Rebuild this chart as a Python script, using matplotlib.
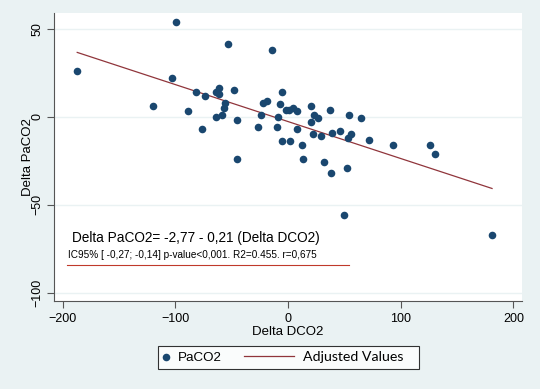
import numpy as np
import matplotlib
matplotlib.use("Agg")
import matplotlib.pyplot as plt
from matplotlib.legend_handler import HandlerLine2D

plt.rcParams['font.family'] = ['Liberation Sans', 'DejaVu Sans']

# Delta DCO2 vs Delta PaCO2
delta_dco2 = [-187, -99, -103, -120, -82, -74, -89, -76, -53, -64, -61, -61,
              -48, -56, -57, -64, -59, -45, -45, -27, -24, -22, -19, -14,
              -5, -7, -2, 1, 4, 8, -9, -10, -5, 2, 8, 12, 13, 20, 23, 27,
              20, 22, 29, 37, 39, 46, 32, 38, 52, 54, 65, 53, 56, 72, 93,
              126, 130, 50, 181]
delta_paco2 = [26, 54, 22, 6, 14, 12, 3, -7, 41, 14, 16.5, 12.7,
               15, 8, 5, 0, 1, -2, -24, -6, 1, 8, 9, 38,
               14, 7, 4, 4, 5, 3, 0, -6, -14, -14, -7, -16, -24, 6, 1, -1,
               -3, -10, -11, 4, -9, -8, -26, -32, -29, 1, -1, -12, -10, -13, -16,
               -16, -21, -56, -67]

# regression reported on the chart
intercept = -2.77
slope = -0.21

eq_text = "Delta PaCO2= -2,77 - 0,21 (Delta DCO2)"
ci_text = "IC95% [ -0,27; -0,14] p-value<0,001. R2=0.455. r=0,675"

navy = '#1a476f'
maroon = '#90353b'
bg = '#eaf2f3'


class LongLine(HandlerLine2D):
    # legend line that reaches back to the left of its (short) handle box
    def create_artists(self, legend, orig_handle, xdescent, ydescent,
                       width, height, fontsize, trans):
        ext = 3.75 * fontsize
        return super().create_artists(legend, orig_handle, xdescent + ext - width,
                                      ydescent, ext, height, fontsize, trans)


fig = plt.figure(figsize=(5.4, 3.89), dpi=100, facecolor=bg)
ax = fig.add_axes([0.1, 0.2262, 0.8667, 0.7391])
ax.set_facecolor('white')

x = np.array(delta_dco2, dtype=float)
fit_x = np.array([x.min(), x.max()])
fit_y = intercept + slope * fit_x

ax.scatter(x, delta_paco2, s=30, color=navy, zorder=3, label='PaCO2', linewidths=0)
fit_line, = ax.plot(fit_x, fit_y, color=maroon, lw=0.9, zorder=2, label='Adjusted Values')

ax.set_xlim(-207.6, 207.6)
ax.set_ylim(-104.7, 58.6)
ax.set_xticks([-200, -100, 0, 100, 200])
ax.set_yticks([-100, -50, 0, 50])
ax.grid(axis='y', color=bg, lw=1)
ax.set_axisbelow(True)

for s in ['top', 'right']:
    ax.spines[s].set_visible(False)
for s in ['left', 'bottom']:
    ax.spines[s].set_color('#555555')
    ax.spines[s].set_linewidth(0.8)
ax.tick_params(colors='#555555', length=5, width=0.8, labelsize=9, labelcolor='black')
ax.tick_params(axis='y', pad=2.5)
plt.setp(ax.get_yticklabels(), rotation=90, va='center')

ax.set_xlabel('Delta DCO2', fontsize=9.5, labelpad=1)
ax.set_ylabel('Delta PaCO2', fontsize=9.5, labelpad=-1.5)

# equation box text
ax.text(-191.7, -69, eq_text, fontsize=9.8, va='center', ha='left')
ax.text(-195.2, -78.4, ci_text, fontsize=7.2, va='center', ha='left')
ax.plot([-196, 54], [-84.4, -84.4], color='#c0392b', lw=0.8)

handles, labels = ax.get_legend_handles_labels()
labels = [labels[0], labels[1] + '   ']
leg = fig.legend(handles, labels, loc='center', ncol=2,
                 bbox_to_anchor=(0.534, 0.081), frameon=True, fancybox=False,
                 edgecolor='black', fontsize=9.6, handlelength=0.5,
                 columnspacing=4.9, borderpad=0.35, handletextpad=0.65,
                 handler_map={fit_line: LongLine()})
leg.get_frame().set_linewidth(0.8)
leg.get_texts()[1].set_family('Lato')
leg.get_texts()[1].set_fontsize(10.2)

fig.savefig('out.png', dpi=100, facecolor=bg)
